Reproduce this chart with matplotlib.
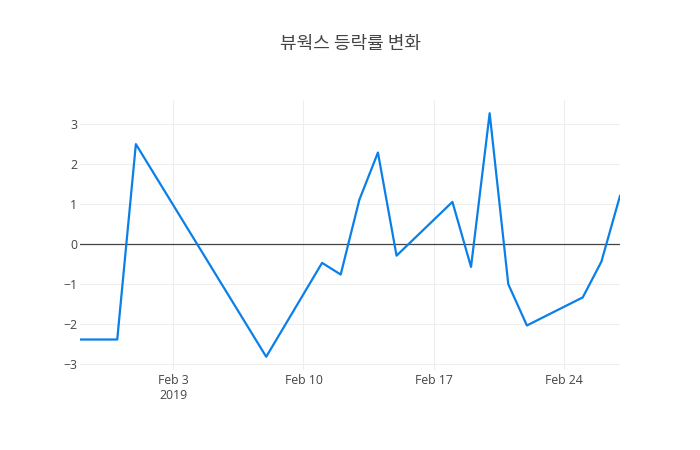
import numpy as np
import pandas as pd
import matplotlib
matplotlib.use("Agg")
import matplotlib.pyplot as plt
import matplotlib.dates as mdates

plt.rcParams['font.family'] = ['Open Sans', 'Noto Sans CJK KR', 'DejaVu Sans']

# 등락률 데이터
dates = pd.to_datetime([
    "2019-01-29", "2019-01-31", "2019-02-01", "2019-02-08",
    "2019-02-11", "2019-02-12", "2019-02-13", "2019-02-14", "2019-02-15",
    "2019-02-18", "2019-02-19", "2019-02-20", "2019-02-21", "2019-02-22",
    "2019-02-25", "2019-02-26", "2019-02-27",
])
rates = [-2.38, -2.38, 2.49, -2.81,
         -0.47, -0.76, 1.10, 2.28, -0.29,
         1.05, -0.57, 3.26, -1.00, -2.03,
         -1.33, -0.44, 1.20]

tick_dates = pd.to_datetime(["2019-02-03", "2019-02-10", "2019-02-17", "2019-02-24"])
tick_labels = ["Feb 3\n2019", "Feb 10", "Feb 17", "Feb 24"]
title = "뷰웍스 등락률 변화"

fig = plt.figure(figsize=(7, 4.5), dpi=100)
ax = fig.add_axes([80/700, 80/450, 540/700, 270/450])

ax.plot(dates, rates, color='#0b7fe8', lw=1.6, zorder=3)
ax.axhline(0, color='#444444', lw=0.9, zorder=2)

ax.set_xlim(dates[0], dates[-1])
ax.set_ylim(-3.14, 3.59)
ax.set_yticks([-3, -2, -1, 0, 1, 2, 3])
ax.set_xticks(tick_dates)
ax.set_xticklabels(tick_labels)

ax.grid(True, color='#eeeeee', lw=0.8, zorder=0)
for s in ax.spines.values():
    s.set_visible(False)
ax.tick_params(length=0, labelsize=8.8, labelcolor='#444444')
ax.tick_params(axis='y', pad=2)
ax.tick_params(axis='x', pad=3)
for lbl in ax.get_xticklabels():
    lbl.set_linespacing(1.15)

fig.text(0.5, 1 - 44/450, title, ha='center', va='center', fontsize=13,
         color='#444444', family=['Noto Sans CJK KR', 'DejaVu Sans'])

fig.savefig("out.png", dpi=100, facecolor='white')
